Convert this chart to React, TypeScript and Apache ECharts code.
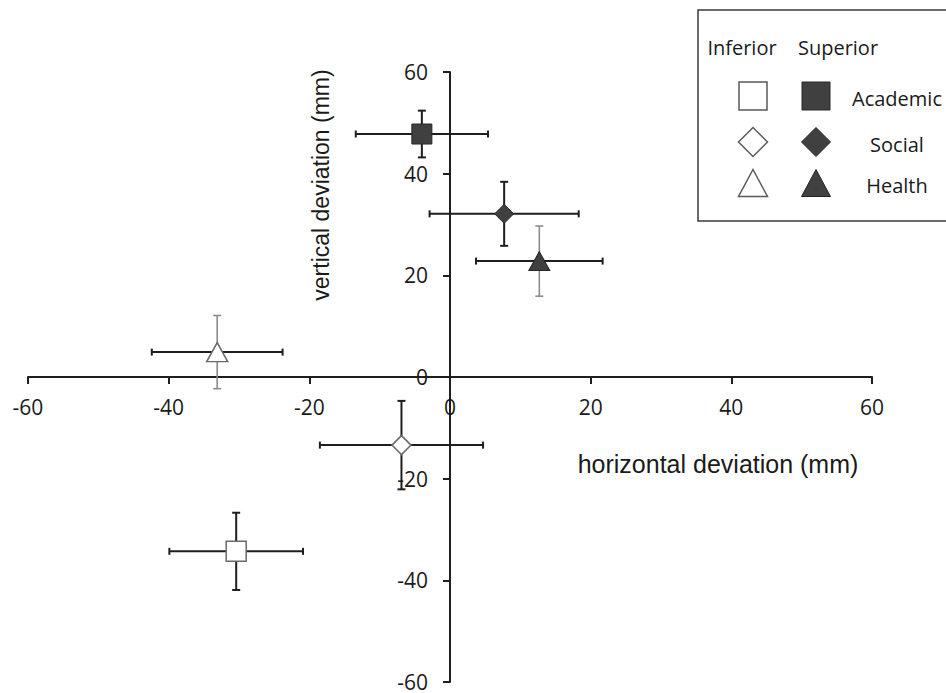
import React, { useEffect, useRef } from "react";
import * as echarts from "echarts";

// Category groups: Inferior (open markers) and Superior (filled markers)
const groupNames = [
  "Inferior Academic",
  "Inferior Social",
  "Inferior Health",
  "Superior Academic",
  "Superior Social",
  "Superior Health",
];
const xMean = [-30.4, -6.9, -33.1, -4.0, 7.7, 12.7];
const yMean = [-34.3, -13.4, 4.9, 47.8, 32.1, 22.8];
const xErr = [9.5, 11.6, 9.3, 9.4, 10.6, 9.0];
const yErr = [7.6, 8.7, 7.2, 4.6, 6.3, 6.9];
const greyVerticalBar = [0, 0, 1, 0, 0, 1];
const symbols = ["rect", "diamond", "triangle", "rect", "diamond", "triangle"];
const filled = [false, false, false, true, true, true];

const axisTicks = [-60, -40, -20, 0, 20, 40, 60];
const legendRows = ["Academic", "Social", "Health"];
const legendCols = ["Inferior", "Superior"];

const DARK = "#404040";
const LINE = "#1e1e1e";

const GRID_LEFT = 28;
const GRID_RIGHT = 74;
const GRID_TOP = 72;
const GRID_BOTTOM = 11;
const W = 946;
const H = 693;

export default function App() {
  const ref = useRef<HTMLDivElement>(null);

  useEffect(() => {
    if (!ref.current) return;
    const chart = echarts.init(ref.current, undefined, { renderer: "svg" });

    const errData = groupNames.map((_, i) => [
      xMean[i],
      yMean[i],
      xErr[i],
      yErr[i],
      greyVerticalBar[i],
    ]);

    const symbolSizeFor = (s: string): number | number[] => {
      if (s === "rect") return 20;
      if (s === "diamond") return [19, 19];
      return [21, 19];
    };

    const scatterSeries = groupNames.map((name, i) => ({
      name,
      type: "scatter",
      z: 5,
      symbol: symbols[i],
      symbolSize: symbolSizeFor(symbols[i]),
      data: [[xMean[i], yMean[i]]],
      itemStyle: filled[i]
        ? { color: DARK, borderColor: "#262626", borderWidth: 1, opacity: 1 }
        : { color: "#ffffff", borderColor: "#6a6a6a", borderWidth: 1.5, opacity: 1 },
      emphasis: { disabled: true },
    }));

    // legend graphics
    const lgX0 = 698;
    const colX = [753, 816];
    const rowY = [96, 142, 183];
    const legendGraphics: any[] = [
      {
        type: "rect",
        shape: { x: lgX0, y: 10, width: 270, height: 211 },
        style: { fill: "#fff", stroke: "#3a3a3a", lineWidth: 1.5 },
        z: 10,
      },
      {
        type: "text",
        x: 742,
        y: 47,
        style: {
          text: legendCols[0],
          font: "20px 'Open Sans'",
          fill: "#1a1a1a",
          align: "center",
          verticalAlign: "middle",
        },
        z: 11,
      },
      {
        type: "text",
        x: 838,
        y: 47,
        style: {
          text: legendCols[1],
          font: "20px 'Open Sans'",
          fill: "#1a1a1a",
          align: "center",
          verticalAlign: "middle",
        },
        z: 11,
      },
    ];
    legendRows.forEach((label, r) => {
      legendGraphics.push({
        type: "text",
        x: 897,
        y: rowY[r] + 2,
        style: {
          text: label,
          font: "20px 'Open Sans'",
          fill: "#1a1a1a",
          align: "center",
          verticalAlign: "middle",
        },
        z: 11,
      });
      [0, 1].forEach((c) => {
        const cx = colX[c];
        const cy = rowY[r];
        const style = c === 1
          ? { fill: DARK, stroke: "#262626", lineWidth: 1 }
          : { fill: "#fff", stroke: "#5a5a5a", lineWidth: 1.5 };
        if (r === 0) {
          legendGraphics.push({
            type: "rect",
            shape: { x: cx - 14, y: cy - 14, width: 28, height: 28 },
            style,
            z: 11,
          });
        } else if (r === 1) {
          legendGraphics.push({
            type: "polygon",
            shape: {
              points: [
                [cx, cy - 14.5],
                [cx + 14.5, cy],
                [cx, cy + 14.5],
                [cx - 14.5, cy],
              ],
            },
            style,
            z: 11,
          });
        } else {
          legendGraphics.push({
            type: "polygon",
            shape: {
              points: [
                [cx, cy - 13.5],
                [cx + 14.5, cy + 13.5],
                [cx - 14.5, cy + 13.5],
              ],
            },
            style,
            z: 11,
          });
        }
      });
    });

    const xMin = axisTicks[0];
    const xMax = axisTicks[axisTicks.length - 1];
    const gridW = W - GRID_LEFT - GRID_RIGHT;
    const gridH = H - GRID_TOP - GRID_BOTTOM;
    // shift each axis so it crosses the other axis at zero
    const yAxisOffset = -((0 - xMin) / (xMax - xMin)) * gridW;
    const xAxisOffset = -((0 - xMin) / (xMax - xMin)) * gridH;

    const option: any = {
      animation: false,
      backgroundColor: "#ffffff",
      grid: {
        left: GRID_LEFT,
        right: GRID_RIGHT,
        top: GRID_TOP,
        bottom: GRID_BOTTOM,
        containLabel: false,
        outerBoundsMode: "none",
      },
      xAxis: {
        type: "value",
        position: "bottom",
        offset: xAxisOffset,
        min: xMin,
        max: xMax,
        interval: 20,
        axisLine: { show: true, onZero: false, lineStyle: { color: LINE, width: 2 } },
        axisTick: { show: true, length: 7, lineStyle: { color: LINE, width: 2 } },
        axisLabel: {
          margin: 19,
          fontFamily: "'Open Sans'",
          fontSize: 21,
          color: "#1a1a1a",
        },
        splitLine: { show: false },
      },
      yAxis: {
        type: "value",
        position: "left",
        offset: yAxisOffset,
        min: xMin,
        max: xMax,
        interval: 20,
        axisLine: { show: true, onZero: false, lineStyle: { color: LINE, width: 2 } },
        axisTick: { show: true, length: 7, lineStyle: { color: LINE, width: 2 } },
        axisLabel: {
          margin: 22,
          fontFamily: "'Open Sans'",
          fontSize: 21,
          color: "#1a1a1a",
        },
        splitLine: { show: false },
      },
      graphic: [
        {
          type: "text",
          x: 718,
          y: 464,
          style: {
            text: "horizontal deviation (mm)",
            font: "25px 'Liberation Sans'",
            fill: "#1a1a1a",
            align: "center",
            verticalAlign: "middle",
          },
        },
        {
          type: "text",
          x: 321,
          y: 185,
          rotation: Math.PI / 2,
          style: {
            text: "vertical deviation (mm)",
            font: "23px 'Liberation Sans'",
            fill: "#1a1a1a",
            align: "center",
            verticalAlign: "middle",
          },
        },
        ...legendGraphics,
      ],
      series: [
        {
          type: "custom",
          z: 3,
          silent: true,
          data: errData,
          encode: { x: 0, y: 1 },
          renderItem: (params: any, api: any) => {
            const x = api.value(0);
            const y = api.value(1);
            const xe = api.value(2);
            const ye = api.value(3);
            const grey = api.value(4);
            const l = api.coord([x - xe, y]);
            const r = api.coord([x + xe, y]);
            const t = api.coord([x, y + ye]);
            const b = api.coord([x, y - ye]);
            const hStyle = { stroke: LINE, lineWidth: 2 };
            const vStyle = grey ? { stroke: "#8c8c8c", lineWidth: 1.6 } : hStyle;
            const capH = 3.5;
            const capV = 4;
            return {
              type: "group",
              children: [
                { type: "line", shape: { x1: l[0], y1: l[1], x2: r[0], y2: r[1] }, style: hStyle },
                { type: "line", shape: { x1: l[0], y1: l[1] - capH, x2: l[0], y2: l[1] + capH }, style: hStyle },
                { type: "line", shape: { x1: r[0], y1: r[1] - capH, x2: r[0], y2: r[1] + capH }, style: hStyle },
                { type: "line", shape: { x1: t[0], y1: t[1], x2: b[0], y2: b[1] }, style: vStyle },
                { type: "line", shape: { x1: t[0] - capV, y1: t[1], x2: t[0] + capV, y2: t[1] }, style: vStyle },
                { type: "line", shape: { x1: b[0] - capV, y1: b[1], x2: b[0] + capV, y2: b[1] }, style: vStyle },
              ],
            };
          },
        },
        ...scatterSeries,
      ],
    };

    chart.setOption(option);
    return () => {
      chart.dispose();
    };
  }, []);

  return (
    <div
      ref={ref}
      style={{ position: "fixed", left: 0, top: 0, width: W, height: H, background: "#fff" }}
    />
  );
}
